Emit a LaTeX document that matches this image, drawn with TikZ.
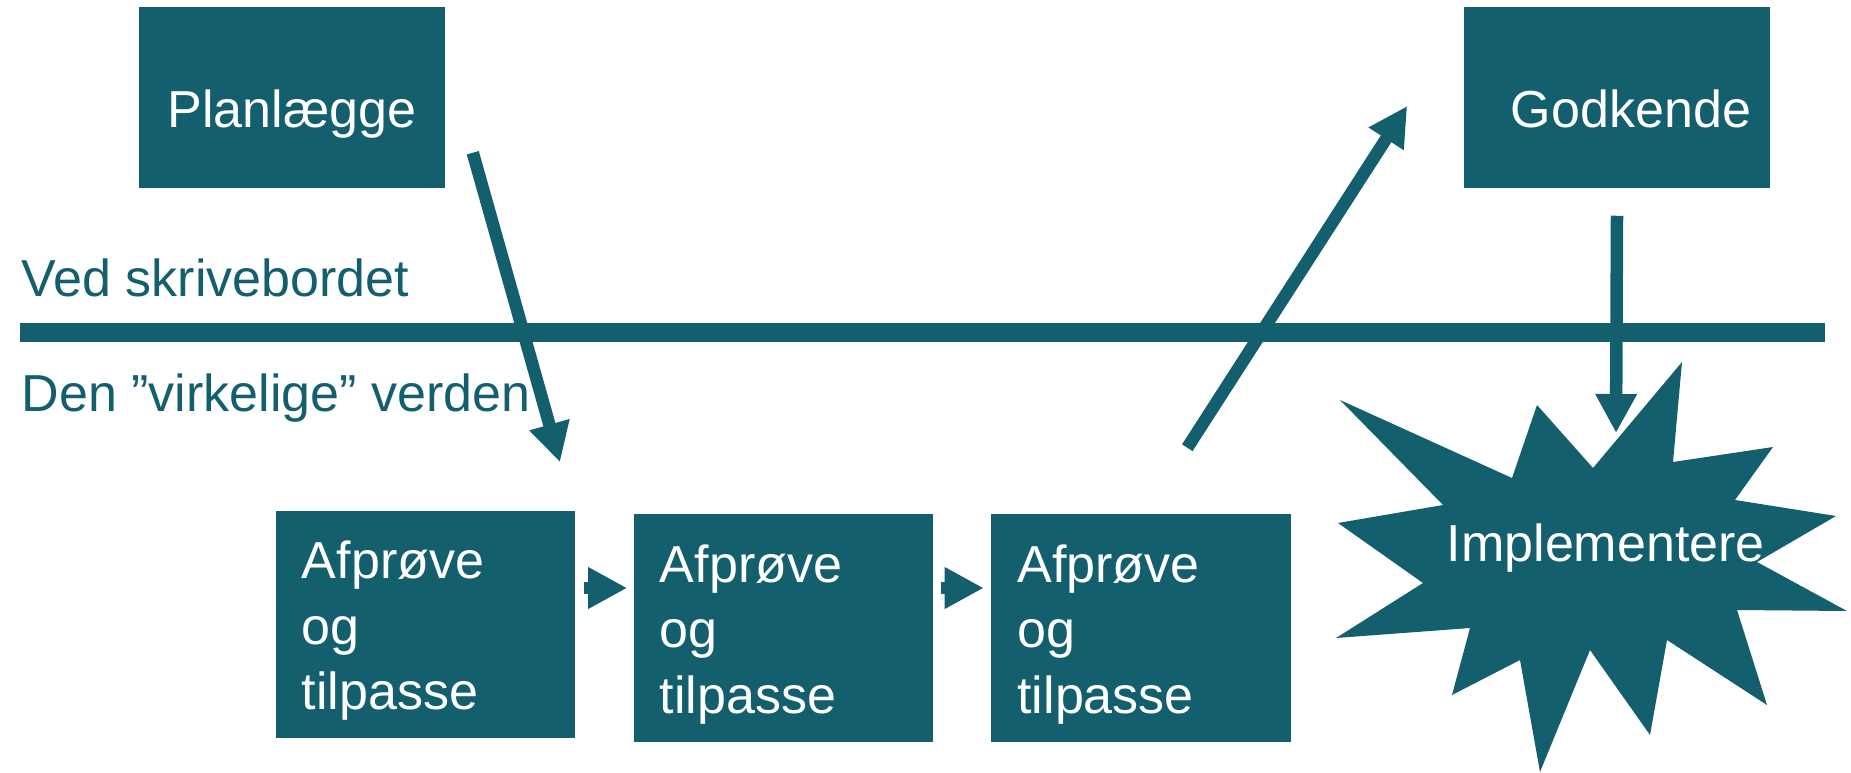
\documentclass[tikz,border=0pt]{standalone}
\usepackage{fontspec}
\setmainfont{Liberation Sans}
\usetikzlibrary{arrows.meta,calc}
\definecolor{petrol}{RGB}{19,95,110}

\begin{document}
\begin{tikzpicture}[x=0.01cm,y=-0.01cm,
  box/.style={fill=petrol, text=white, inner sep=0pt, font=\fontsize{14.8pt}{18.6pt}\selectfont},
  single/.style={box, minimum width=3.06cm, minimum height=1.81cm, text height=5.9mm, text depth=0pt},
  trial/.style={box, text width=2.47cm, align=left, inner xsep=2.6mm, minimum height=2.27cm, text height=5mm},
  side/.style={text=petrol, anchor=base west, inner sep=0pt, font=\fontsize{14.8pt}{17pt}\selectfont},
  flow/.style={draw=petrol, line width=0.125cm, -{Triangle[length=3.9mm,width=3.9mm]}}
]
\useasboundingbox (0,0) rectangle (1851,773);

% the desk / real world divide
\coordinate (divL) at (20,332.5);
\coordinate (divR) at (1825,332.5);
\draw[petrol, line width=0.19cm] (divL) -- (divR);
\node[side] (desk) at (21,297) {Ved skrivebordet};
\node[side] (world) at (21,411) {Den ”virkelige” verden};

\node[single] (plan) at (292,97.5) {Planlægge};
\node[single] (godk) at (1617,97.5) {\hspace*{2.8mm}Godkende};

\node[trial] (test1) at (425.5,624.5) {Afprøve\\og\\tilpasse};
\node[trial] (test2) at (783.5,628) {Afprøve\\og\\tilpasse};
\node[trial] (test3) at (1141,628) {Afprøve\\og\\tilpasse};

% explosion
\fill[petrol] (1682,362) -- (1673,462) -- (1773,447) -- (1735,500) -- (1836,516)
  -- (1757,562) -- (1847,611) -- (1737,610) -- (1767,705) -- (1667,640)
  -- (1650,735) -- (1590,650) -- (1540,772) -- (1520,660) -- (1452,695)
  -- (1470,628) -- (1336,638) -- (1423,583) -- (1338,523) -- (1443,505)
  -- (1340,400) -- (1512,478) -- (1537,405) -- (1593,468) -- cycle;
\node[anchor=base west, inner sep=0pt, text=white, font=\fontsize{14.8pt}{17pt}\selectfont] (impl) at (1446,561) {Implementere};
\coordinate (impltop) at (1616,433);

\draw[flow] ($(plan.south east)+(27,-36)$) -- ($(test1.north)+(134.5,-48)$);
\draw[flow] ($(test1.east)+(8,-36.5)$) -- ($(test2.west)+(-6,-40)$);
\draw[flow] ($(test2.east)+(7,-40)$) -- ($(test3.west)+(-7,-40)$);
\draw[flow] ($(test3.north east)+(-104,-66)$) -- ($(godk.west)+(-56,8.5)$);
\draw[flow] ($(godk.south)+(0,27)$) -- (impltop);
\end{tikzpicture}
\end{document}
